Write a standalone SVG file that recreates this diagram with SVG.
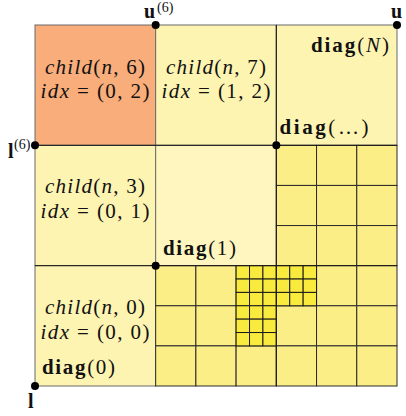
<svg xmlns="http://www.w3.org/2000/svg" width="406" height="416" viewBox="0 0 406 416">
<style>
.lt{fill:#fdf4b2;stroke:#6a6a6a;stroke-width:1}
.ct{fill:#fef6be;stroke:#6a6a6a;stroke-width:1}
.or{fill:#f9ad7a;stroke:#6a6a6a;stroke-width:1}
.md{fill:#fcee86;stroke:#2a2a2a;stroke-width:1}
.fn{fill:#f9ea3e;stroke:#1a1a1a;stroke-width:1}
text{font-family:"Liberation Serif","Times New Roman",serif;fill:#111}
.lab{font-size:21px}
.it{font-style:italic}
.b{font-weight:bold}
.sup{font-size:14px}
.dot{fill:#000}
</style>
<g id="cell-child-n-6">
<rect class="or" x="35" y="25" width="120.67" height="120.33"/>
<text class="lab" x="45" y="74" textLength="100" lengthAdjust="spacing"><tspan class="it">child</tspan>(<tspan class="it">n</tspan>, 6)</text>
<text class="lab" x="40.5" y="98" textLength="109" lengthAdjust="spacing"><tspan class="it">idx</tspan> = (0, 2)</text>
</g>
<g id="cell-child-n-7">
<rect class="lt" x="155.67" y="25" width="120.67" height="120.33"/>
<text class="lab" x="166" y="74" textLength="100" lengthAdjust="spacing"><tspan class="it">child</tspan>(<tspan class="it">n</tspan>, 7)</text>
<text class="lab" x="161.5" y="98" textLength="109" lengthAdjust="spacing"><tspan class="it">idx</tspan> = (1, 2)</text>
</g>
<g id="cell-diag-N">
<rect class="lt" x="276.33" y="25" width="120.67" height="120.33"/>
<text class="lab" x="311" y="52" textLength="78" lengthAdjust="spacing"><tspan class="b">diag</tspan>(<tspan class="it">N</tspan>)</text>
</g>
<g id="cell-child-n-3">
<rect class="lt" x="35" y="145.33" width="120.67" height="120.33"/>
<text class="lab" x="45" y="193" textLength="100" lengthAdjust="spacing"><tspan class="it">child</tspan>(<tspan class="it">n</tspan>, 3)</text>
<text class="lab" x="40.5" y="218" textLength="109" lengthAdjust="spacing"><tspan class="it">idx</tspan> = (0, 1)</text>
</g>
<g id="cell-diag-1">
<rect class="ct" x="155.67" y="145.33" width="120.67" height="120.33"/>
<text class="lab" x="163" y="255" textLength="73" lengthAdjust="spacing"><tspan class="b">diag</tspan>(1)</text>
</g>
<g id="cell-right-middle">
<rect class="md" x="276.33" y="145.33" width="40.22" height="40.11"/>
<rect class="md" x="316.55" y="145.33" width="40.22" height="40.11"/>
<rect class="md" x="356.77" y="145.33" width="40.23" height="40.11"/>
<rect class="md" x="276.33" y="185.44" width="40.22" height="40.11"/>
<rect class="md" x="316.55" y="185.44" width="40.22" height="40.11"/>
<rect class="md" x="356.77" y="185.44" width="40.23" height="40.11"/>
<rect class="md" x="276.33" y="225.55" width="40.22" height="40.12"/>
<rect class="md" x="316.55" y="225.55" width="40.22" height="40.12"/>
<rect class="md" x="356.77" y="225.55" width="40.23" height="40.12"/>
<text class="lab" x="279.5" y="134" textLength="89" lengthAdjust="spacing"><tspan class="b">diag</tspan>(…)</text>
</g>
<g id="cell-child-n-0">
<rect class="lt" x="35" y="265.67" width="120.67" height="120.33"/>
<text class="lab" x="45" y="314" textLength="100" lengthAdjust="spacing"><tspan class="it">child</tspan>(<tspan class="it">n</tspan>, 0)</text>
<text class="lab" x="40.5" y="339" textLength="109" lengthAdjust="spacing"><tspan class="it">idx</tspan> = (0, 0)</text>
<text class="lab" x="42" y="374" textLength="73" lengthAdjust="spacing"><tspan class="b">diag</tspan>(0)</text>
</g>
<g id="cell-bottom-middle">
<rect class="md" x="155.67" y="265.67" width="40.22" height="40.11"/>
<rect class="md" x="195.89" y="265.67" width="40.22" height="40.11"/>
<rect class="md" x="155.67" y="305.78" width="40.22" height="40.11"/>
<rect class="md" x="195.89" y="305.78" width="40.22" height="40.11"/>
<rect class="md" x="155.67" y="345.89" width="40.22" height="40.11"/>
<rect class="md" x="195.89" y="345.89" width="40.22" height="40.11"/>
<rect class="md" x="236.11" y="345.89" width="40.22" height="40.11"/>
<g id="fine-a">
<rect class="fn" x="236.11" y="265.67" width="13.41" height="13.37"/>
<rect class="fn" x="249.52" y="265.67" width="13.41" height="13.37"/>
<rect class="fn" x="262.93" y="265.67" width="13.40" height="13.37"/>
<rect class="fn" x="236.11" y="279.04" width="13.41" height="13.37"/>
<rect class="fn" x="249.52" y="279.04" width="13.41" height="13.37"/>
<rect class="fn" x="262.93" y="279.04" width="13.40" height="13.37"/>
<rect class="fn" x="236.11" y="292.41" width="13.41" height="13.37"/>
<rect class="fn" x="249.52" y="292.41" width="13.41" height="13.37"/>
<rect class="fn" x="262.93" y="292.41" width="13.40" height="13.37"/>
</g>
<g id="fine-b">
<rect class="fn" x="236.11" y="305.78" width="13.41" height="13.37"/>
<rect class="fn" x="249.52" y="305.78" width="13.41" height="13.37"/>
<rect class="fn" x="262.93" y="305.78" width="13.40" height="13.37"/>
<rect class="fn" x="236.11" y="319.15" width="13.41" height="13.37"/>
<rect class="fn" x="249.52" y="319.15" width="13.41" height="13.37"/>
<rect class="fn" x="262.93" y="319.15" width="13.40" height="13.37"/>
<rect class="fn" x="236.11" y="332.52" width="13.41" height="13.37"/>
<rect class="fn" x="249.52" y="332.52" width="13.41" height="13.37"/>
<rect class="fn" x="262.93" y="332.52" width="13.40" height="13.37"/>
</g>
</g>
<g id="cell-bottom-right">
<rect class="md" x="316.55" y="265.67" width="40.22" height="40.11"/>
<rect class="md" x="356.77" y="265.67" width="40.23" height="40.11"/>
<rect class="md" x="276.33" y="305.78" width="40.22" height="40.11"/>
<rect class="md" x="316.55" y="305.78" width="40.22" height="40.11"/>
<rect class="md" x="356.77" y="305.78" width="40.23" height="40.11"/>
<rect class="md" x="276.33" y="345.89" width="40.22" height="40.11"/>
<rect class="md" x="316.55" y="345.89" width="40.22" height="40.11"/>
<rect class="md" x="356.77" y="345.89" width="40.23" height="40.11"/>
<g id="fine-c">
<rect class="fn" x="276.33" y="265.67" width="13.41" height="13.37"/>
<rect class="fn" x="289.74" y="265.67" width="13.41" height="13.37"/>
<rect class="fn" x="303.15" y="265.67" width="13.40" height="13.37"/>
<rect class="fn" x="276.33" y="279.04" width="13.41" height="13.37"/>
<rect class="fn" x="289.74" y="279.04" width="13.41" height="13.37"/>
<rect class="fn" x="303.15" y="279.04" width="13.40" height="13.37"/>
<rect class="fn" x="276.33" y="292.41" width="13.41" height="13.37"/>
<rect class="fn" x="289.74" y="292.41" width="13.41" height="13.37"/>
<rect class="fn" x="303.15" y="292.41" width="13.40" height="13.37"/>
</g>
</g>
<g id="connectors" fill="none" stroke="#1a1a1a" stroke-width="1">
<line x1="35" y1="145.33" x2="397" y2="145.33"/>
<line x1="35" y1="265.67" x2="397" y2="265.67"/>
<line x1="276.33" y1="25" x2="276.33" y2="386"/>
</g>
<g id="points">
<circle class="dot" cx="155.67" cy="25" r="4"/>
<circle class="dot" cx="397" cy="25" r="4"/>
<circle class="dot" cx="35" cy="145.33" r="4"/>
<circle class="dot" cx="35" cy="386" r="4"/>
<circle class="dot" cx="155.67" cy="265.67" r="4"/>
<circle class="dot" cx="276.33" cy="145.33" r="4"/>
<text class="b" font-size="20" x="144" y="18">u</text>
<text class="sup" x="157" y="12">(6)</text>
<text class="b" font-size="20" x="391" y="18">u</text>
<text class="b" font-size="20" x="8" y="158">l</text>
<text class="sup" x="14" y="149">(6)</text>
<text class="b" font-size="20" x="28" y="408">l</text>
</g>
</svg>
